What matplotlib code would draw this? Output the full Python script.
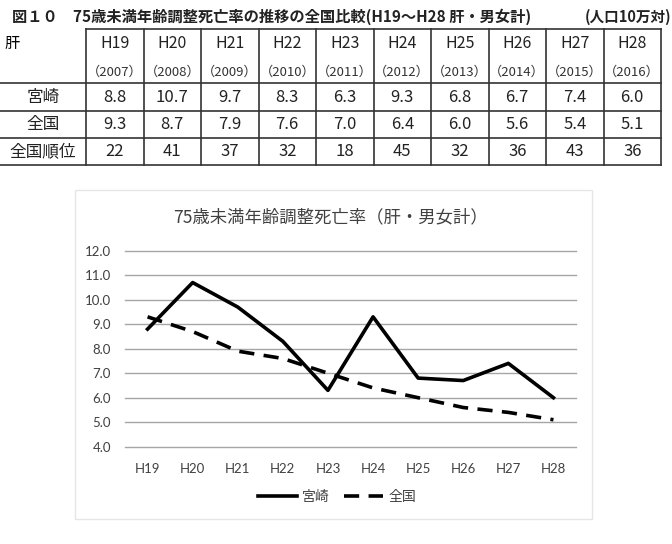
import matplotlib
matplotlib.use("Agg")
import matplotlib.pyplot as plt
from matplotlib.lines import Line2D

plt.rcParams['font.family'] = ['Noto Sans CJK JP', 'DejaVu Sans']

# データ
years = ['H19', 'H20', 'H21', 'H22', 'H23', 'H24', 'H25', 'H26', 'H27', 'H28']
seireki = ['2007', '2008', '2009', '2010', '2011', '2012', '2013', '2014', '2015', '2016']
miyazaki = [8.8, 10.7, 9.7, 8.3, 6.3, 9.3, 6.8, 6.7, 7.4, 6.0]
zenkoku = [9.3, 8.7, 7.9, 7.6, 7.0, 6.4, 6.0, 5.6, 5.4, 5.1]
juni = [22, 41, 37, 32, 18, 45, 32, 36, 43, 36]
row_labels = ['宮崎', '全国', '全国順位']

fig = plt.figure(figsize=(6.72, 5.44), dpi=100)

# ---- 上の表 (ピクセル座標で配置) ----
tab = fig.add_axes([0, 0, 1, 1])
tab.set_xlim(0, 672)
tab.set_ylim(544, 0)
tab.axis('off')

tab.text(12, 17, '図１０　75歳未満年齢調整死亡率の推移の全国比較(H19～H28 肝・男女計)',
         fontsize=11, fontweight='bold', va='center', ha='left', color='#222222')
tab.text(671, 17, '(人口10万対)', fontsize=10.5, fontweight='bold', va='center', ha='right',
         color='#222222')

x0, cw = 86, 57.5
rows_y = [29, 83, 111, 138, 165]
lc = '#333333'
# 横線
tab.add_line(Line2D([x0, x0 + cw * 10], [rows_y[0]] * 2, color=lc, lw=1.2))
for y in rows_y[1:]:
    tab.add_line(Line2D([0, x0 + cw * 10], [y, y], color=lc, lw=1.2))
# 縦線
for i in range(11):
    tab.add_line(Line2D([x0 + cw * i] * 2, [rows_y[0], rows_y[-1]], color=lc, lw=1.2))

tab.text(4, 43, '肝', fontsize=11, va='center', ha='left')
for i in range(10):
    cx = x0 + cw * (i + 0.5)
    tab.text(cx, 43, years[i], fontsize=11.5, ha='center', va='center', color='#222222')
    tab.text(cx, 72, '（' + seireki[i] + '）', fontsize=9.5, ha='center', va='center', color='#333333')
    tab.text(cx, 97, f'{miyazaki[i]:.1f}', fontsize=12, ha='center', va='center', color='#222222')
    tab.text(cx, 124.5, f'{zenkoku[i]:.1f}', fontsize=12, ha='center', va='center', color='#222222')
    tab.text(cx, 151.5, str(juni[i]), fontsize=12, ha='center', va='center', color='#222222')
for lab, y in zip(row_labels, [97, 124.5, 151.5]):
    tab.text(43, y, lab, fontsize=12, ha='center', va='center', color='#222222')

# グラフの枠
tab.add_patch(plt.Rectangle((75, 190), 517, 329, fill=False, ec='#e6e6e6', lw=1))

# グラフのタイトル
tab.text(330, 217, '75歳未満年齢調整死亡率（肝・男女計）', fontsize=12.5, color='#404040',
         ha='center', va='center')

# ---- グラフ ----
ax = fig.add_axes([125 / 672, 1 - 446.7 / 544, 451 / 672, 196 / 544])
x = list(range(len(years)))
ax.plot(x, miyazaki, color='black', lw=2.6, label='宮崎')
ax.plot(x, zenkoku, color='black', lw=2.6, linestyle=(0, (4.2, 2.6)),
        dash_capstyle='butt', label='全国')

ax.set_xlim(-0.5, 9.5)
ax.set_ylim(4, 12)
ax.set_yticks([4, 5, 6, 7, 8, 9, 10, 11, 12])
ax.set_yticklabels([f'{v:.1f}' for v in range(4, 13)], family='Lato', fontsize=9.5, color='#404040')
ax.set_xticks(x)
ax.set_xticklabels(years, family='Lato', fontsize=9.5, color='#404040')
ax.tick_params(axis='x', length=0, pad=12)
ax.tick_params(axis='y', length=0, pad=10)
for s in ax.spines.values():
    s.set_visible(False)
ax.yaxis.grid(True, color='#a6a6a6', lw=1)
ax.set_axisbelow(True)
for gl in ax.get_ygridlines():
    gl.set_clip_on(False)

fig.legend(loc='center', bbox_to_anchor=(337 / 672, 1 - 497 / 544), ncol=2, frameon=False,
           fontsize=10, handlelength=2.8, columnspacing=1.0, handletextpad=0.4,
           labelcolor='#404040')

fig.savefig('out.png', dpi=100)
